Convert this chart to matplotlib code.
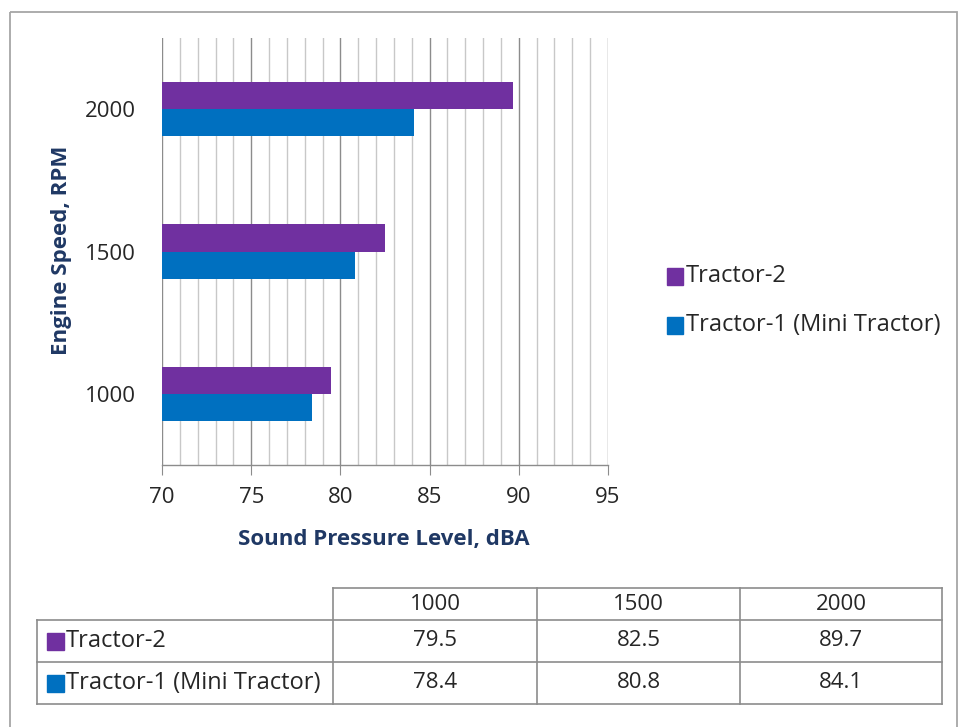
import matplotlib
matplotlib.use("Agg")
import matplotlib.pyplot as plt
from matplotlib.patches import Rectangle
from matplotlib.ticker import MultipleLocator

plt.rcParams['font.family'] = ['Open Sans', 'DejaVu Sans']

# Data
speeds = ["1000", "1500", "2000"]
series_names = ["Tractor-2", "Tractor-1 (Mini Tractor)"]
tractor2 = [79.5, 82.5, 89.7]
tractor1 = [78.4, 80.8, 84.1]
x_ticks = [70, 75, 80, 85, 90, 95]

PURPLE = "#7030A0"
BLUE = "#0070C0"
TITLE_C = "#1F3864"
TEXT_C = "#262626"
FS = 16
FS_TXT = 17

W, H = 960, 727
fig = plt.figure(figsize=(W / 100, H / 100), dpi=100)

# Overlay in pixel coordinates for frame, legend and data table
ov = fig.add_axes([0, 0, 1, 1], zorder=0)
ov.set_xlim(0, W)
ov.set_ylim(H, 0)
ov.axis("off")
ov.add_patch(Rectangle((10, 12), 947, 730, fill=False, ec="#A6A6A6", lw=1.3))

# Main bar chart
left, right, top, bottom = 162, 608, 38, 465
ax = fig.add_axes([left / W, 1 - bottom / H, (right - left) / W, (bottom - top) / H], zorder=2)
ax.set_facecolor("none")
pos = list(range(len(speeds)))
bh = 0.19
ax.barh([p + bh / 2 for p in pos], [v - 70 for v in tractor2], left=70, height=bh,
        color=PURPLE, zorder=3)
ax.barh([p - bh / 2 for p in pos], [v - 70 for v in tractor1], left=70, height=bh,
        color=BLUE, zorder=3)
ax.set_xlim(70, 95)
ax.set_ylim(-0.5, 2.5)
ax.set_xticks(x_ticks)
ax.xaxis.set_minor_locator(MultipleLocator(1))
ax.set_yticks(pos)
ax.set_yticklabels(speeds)
ax.grid(True, axis="x", which="minor", color="#C8C8C8", lw=1.0, zorder=1)
ax.grid(True, axis="x", which="major", color="#8C8C8C", lw=1.0, zorder=1)
for s in ["top", "right", "left"]:
    ax.spines[s].set_visible(False)
ax.spines["bottom"].set_color("#8C8C8C")
ax.spines["bottom"].set_linewidth(1.0)
ax.tick_params(axis="x", which="major", length=7, color="#8C8C8C", labelsize=FS,
               labelcolor=TEXT_C, pad=9)
ax.tick_params(axis="x", which="minor", length=0)
ax.tick_params(axis="y", length=0, labelsize=FS, labelcolor=TEXT_C, pad=19)

# Axis titles placed in pixel space
ov.text(384, 540, "Sound Pressure Level, dBA", fontsize=FS, fontweight="bold",
        color=TITLE_C, ha="center", va="center")
ov.text(62, 250, "Engine Speed, RPM", fontsize=FS, fontweight="bold", rotation=90,
        color=TITLE_C, ha="center", va="center")

# Legend
colors = [PURPLE, BLUE]
leg_y = [276, 325]
for name, c, y in zip(series_names, colors, leg_y):
    ov.add_patch(Rectangle((667, y - 8), 16, 17, color=c))
    ov.text(686, y, name, fontsize=FS_TXT, color=TEXT_C, va="center", ha="left")

# Data table
cols = [37, 333, 537, 740, 942]
rows = [588, 620, 662, 704]
lc = "#8C8C8C"
ov.plot([cols[1], cols[-1]], [rows[0], rows[0]], color=lc, lw=1.2)
for yv in rows[1:]:
    ov.plot([cols[0], cols[-1]], [yv, yv], color=lc, lw=1.2)
ov.plot([cols[0], cols[0]], [rows[1], rows[-1]], color=lc, lw=1.2)
for xv in cols[1:]:
    ov.plot([xv, xv], [rows[0], rows[-1]], color=lc, lw=1.2)
for j, sp in enumerate(speeds):
    ov.text((cols[j + 1] + cols[j + 2]) / 2, (rows[0] + rows[1]) / 2, sp,
            fontsize=FS, color=TEXT_C, ha="center", va="center")
for i, (name, c, vals) in enumerate(zip(series_names, colors, [tractor2, tractor1])):
    yc = (rows[i + 1] + rows[i + 2]) / 2
    ov.add_patch(Rectangle((47, yc - 8), 17, 17, color=c))
    ov.text(66, yc, name, fontsize=FS_TXT, color=TEXT_C, ha="left", va="center")
    for j, v in enumerate(vals):
        ov.text((cols[j + 1] + cols[j + 2]) / 2, yc, f"{v:.1f}", fontsize=FS,
                color=TEXT_C, ha="center", va="center")

fig.savefig("out.png", dpi=100, facecolor="white")
